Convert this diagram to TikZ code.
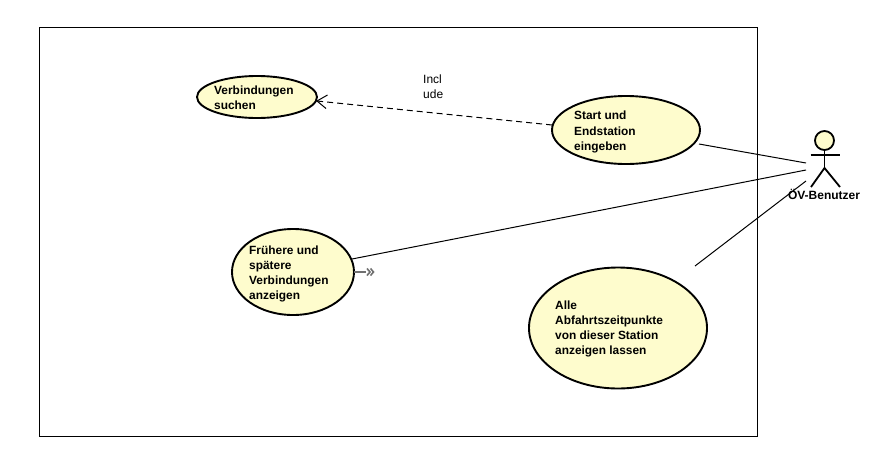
\documentclass[tikz,border=0pt]{standalone}
\usepackage{fontspec}
\setmainfont{Liberation Sans}
\usetikzlibrary{shapes.geometric,arrows.meta}
\definecolor{ucfill}{HTML}{FEFCCD}
\definecolor{chevron}{HTML}{707070}
\tikzset{
  usecase/.style={ellipse,draw=black,line width=1.9pt,fill=ucfill,inner sep=0pt},
  uctext/.style={anchor=west,align=left,inner sep=0pt,font=\fontsize{11.9}{15.2}\selectfont\bfseries},
  plaintext/.style={anchor=west,align=left,inner sep=0pt,font=\fontsize{12}{15}\selectfont},
  assoc/.style={draw=black,line width=1pt},
  actorline/.style={draw=black,line width=1.8pt},
}
\begin{document}
\begin{tikzpicture}[x=1pt,y=-1pt]
\useasboundingbox (0,0) rectangle (891,461);
\fill[white] (0,0) rectangle (891,461);
\node[draw=black,line width=1pt,minimum width=718pt,minimum height=409pt,inner sep=0pt] (frame) at (398,231.5) {};

\node[usecase,minimum width=120pt,minimum height=42pt] (search) at (257,97) {};
\node[uctext] (searchtext) at (214,97.5) {Verbindungen\\suchen};
\node[usecase,minimum width=148pt,minimum height=68pt] (start) at (626,130) {};
\node[uctext] (starttext) at (574,132) {Start und\\Endstation\\eingeben};
\node[usecase,minimum width=122pt,minimum height=86pt] (earlier) at (293,272) {};
\node[uctext] (earliertext) at (249,274) {Frühere und\\spätere\\Verbindungen\\anzeigen};
\node[usecase,minimum width=178pt,minimum height=121pt] (all) at (618,328) {};
\node[uctext] (alltext) at (555,329) {Alle\\Abfahrtszeitpunkte\\von dieser Station\\anzeigen lassen};
\node[plaintext] (include) at (423,86.5) {Incl\\ude};

% actor
\node[circle,draw=black,line width=1.8pt,fill=ucfill,minimum size=19pt,inner sep=0pt] (head) at (824.5,140.5) {};
\coordinate (hip) at (824.5,168);
\coordinate (armL) at (810.5,155);
\coordinate (armR) at (840,155);
\coordinate (legL) at (811,187);
\coordinate (legR) at (840,187);
\draw[actorline] (head.south) -- (hip);
\draw[actorline] (armL) -- (armR);
\draw[actorline] (legL) -- (hip) -- (legR);
\node[anchor=center,inner sep=0pt,font=\fontsize{12}{15}\selectfont\bfseries] (actorlabel) at (824,194.5) {ÖV-Benutzer};

% connector ends
\coordinate (a1) at (806,163);
\coordinate (a2) at (806,170);
\coordinate (a3) at (806,181);
\coordinate (s1) at (699,144);
\coordinate (e1) at (352,259);
\coordinate (l1) at (695,266);
\coordinate (s2) at (552,125);
\coordinate (v1) at (317,101);
\coordinate (e2) at (354,272);
\coordinate (e3) at (366,272);

\draw[assoc] (s1) -- (a1);
\draw[assoc] (e1) -- (a2);
\draw[assoc] (l1) -- (a3);
\draw[draw=black,line width=1pt,dash pattern=on 6pt off 4pt] (s2) -- (v1);
\draw[draw=black,line width=1pt] (327.5,95) -- (v1) -- (326,108.5);
\draw[draw=chevron,line width=1.8pt] (e2) -- (e3);
\draw[draw=chevron,line width=1.6pt] (367,268.5) -- (370,272) -- (367,275.5);
\draw[draw=chevron,line width=1.6pt] (370.5,268.5) -- (373.5,272) -- (370.5,275.5);
\end{tikzpicture}
\end{document}
